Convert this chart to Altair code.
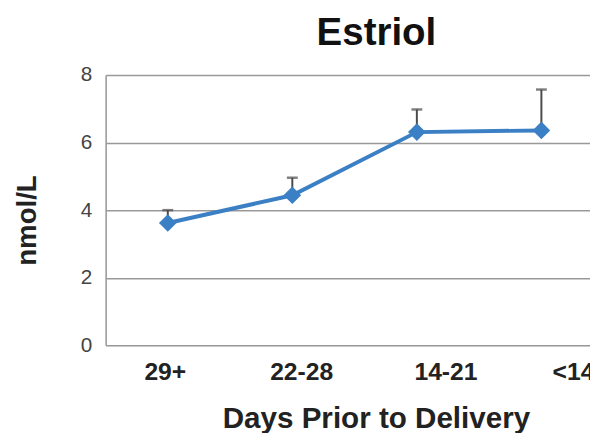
import altair as alt
import pandas as pd

categories = ["29+", "22-28", "14-21", "<14"]
means = [3.62, 4.44, 6.31, 6.36]
upper = [4.0, 4.96, 6.98, 7.57]

df = pd.DataFrame({"days": categories, "mean": means, "upper": upper})

FONT = "Liberation Sans"
BLUE = "#3b7fc4"
ERR = "#4a4a4a"

x_enc = alt.X(
    "days:N",
    sort=categories,
    scale=alt.Scale(type="point", padding=0.4446, align=0.561),
    axis=alt.Axis(
        title="Days Prior to Delivery",
        titleFont=FONT, titleFontSize=30, titleFontWeight="bold", titleColor="#222",
        titleX=274, titleY=83, titleBaseline="alphabetic", titleAnchor="middle",
        labelFont=FONT, labelFontSize=25, labelFontWeight="bold", labelColor="#222",
        labelAngle=0, labelBaseline="alphabetic", labelPadding=35,
        labelOffset={"condition": [
            {"test": "datum.value === '29+'", "value": -3},
            {"test": "datum.value === '22-28'", "value": 9},
            {"test": "datum.value === '14-21'", "value": 29}], "value": 32},
        ticks=False, tickSize=0, domain=False, grid=False,
    ),
)

y_enc = alt.Y(
    "mean:Q",
    scale=alt.Scale(domain=[0, 8], nice=False),
    axis=alt.Axis(
        title="nmol/L", values=[0, 2, 4, 6, 8],
        titleFont=FONT, titleFontSize=28, titleFontWeight="bold", titleColor="#222",
        titleAngle=-90, titleX=-71, titleY=147, titleBaseline="alphabetic", titleAlign="center",
        labelFont=FONT, labelFontSize=21, labelColor="#444", labelPadding=14,
        ticks=False, tickSize=0, domain=True, domainColor="#999", domainWidth=1.5,
        grid=True, gridColor="#999", gridWidth=1.5,
    ),
)

base = alt.Chart(df)

err = base.mark_rule(color=ERR, strokeWidth=2).encode(x=x_enc, y=y_enc, y2="upper:Q")
cap = base.mark_tick(color=ERR, size=11, thickness=2.5).encode(x=x_enc, y="upper:Q")
line = base.mark_line(color=BLUE, strokeWidth=4).encode(x=x_enc, y=y_enc)
pts = base.mark_point(shape="diamond", filled=True, color=BLUE, size=320, opacity=1).encode(x=x_enc, y=y_enc)

chart = alt.layer(err, cap, line, pts).properties(
    width=491, height=274,
    title=alt.TitleParams("Estriol", font=FONT, fontSize=39, fontWeight="bold", color="#111",
                          anchor="middle", frame="group", dx=29, dy=38, offset=10, baseline="bottom"),
    autosize=alt.AutoSizeParams(type="none"),
    padding={"left": 99, "top": 65, "right": 0, "bottom": 86},
).configure_view(strokeWidth=0).configure(background="white")

chart.save("out.html", embed_options={"renderer": "svg", "actions": False})
